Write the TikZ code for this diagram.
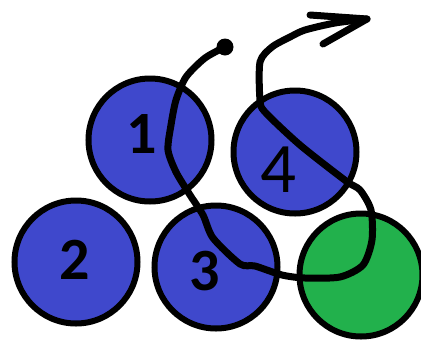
\documentclass[tikz,border=0pt]{standalone}
\usepackage{fontspec}
\setmainfont{Carlito}
\definecolor{paintblue}{HTML}{3F48CC}
\definecolor{paintgreen}{HTML}{22B14C}
\begin{document}
\begin{tikzpicture}[x=1pt,y=-1pt,
  ball/.style={circle,draw=black,line width=6pt,minimum size=123pt,inner sep=0pt,fill=paintblue},
  greenball/.style={ball,fill=paintgreen},
  lbl/.style={font=\fontsize{60}{60}\selectfont\bfseries,text=black,inner sep=0pt},
  trail/.style={draw=black,line width=7pt,line join=round,line cap=round}]
\useasboundingbox (0,0) rectangle (421,341);
\clip (0,0) rectangle (421,341);
\fill[white] (0,0) rectangle (421,341);
\node[ball] (b1) at (150,140) {};
\node[ball] (b4) at (295,152) {};
\node[ball] (b2) at (76,262) {};
\node[ball] (b3) at (216,267) {};
\node[greenball] (g) at (361,275) {};
\node[lbl] (l1) at (142,134) {1};
\node[lbl] (l2) at (75,260) {2};
\node[lbl] (l3) at (205,271) {3};
\node[lbl,font=\fontsize{71}{71}\selectfont] (l4) at (278,170) {4};
\coordinate (start) at (225,47);
\coordinate (tip) at (367,19);
\coordinate (barbA) at (310,15);
\coordinate (barbB) at (323,44);
\fill[black] (start) circle (8.5pt);
\draw[trail] plot[smooth,tension=0.45] coordinates {
 (225,47) (205,58) (186,77) (176,100) (171,125) (168,150) (176,172)
 (190,195) (203,215) (213,238) (240,264) (255,266) (282,275) (305,278)
 (340,277) (363,265) (372,240) (371,210) (360,190) (346,181) (300,145)
 (265,112) (260,100) (260,62) (272,47) (290,37) (305,30) (335,23) (367,19)};
\draw[trail] (barbA) -- (tip) -- (barbB);
\end{tikzpicture}
\end{document}
